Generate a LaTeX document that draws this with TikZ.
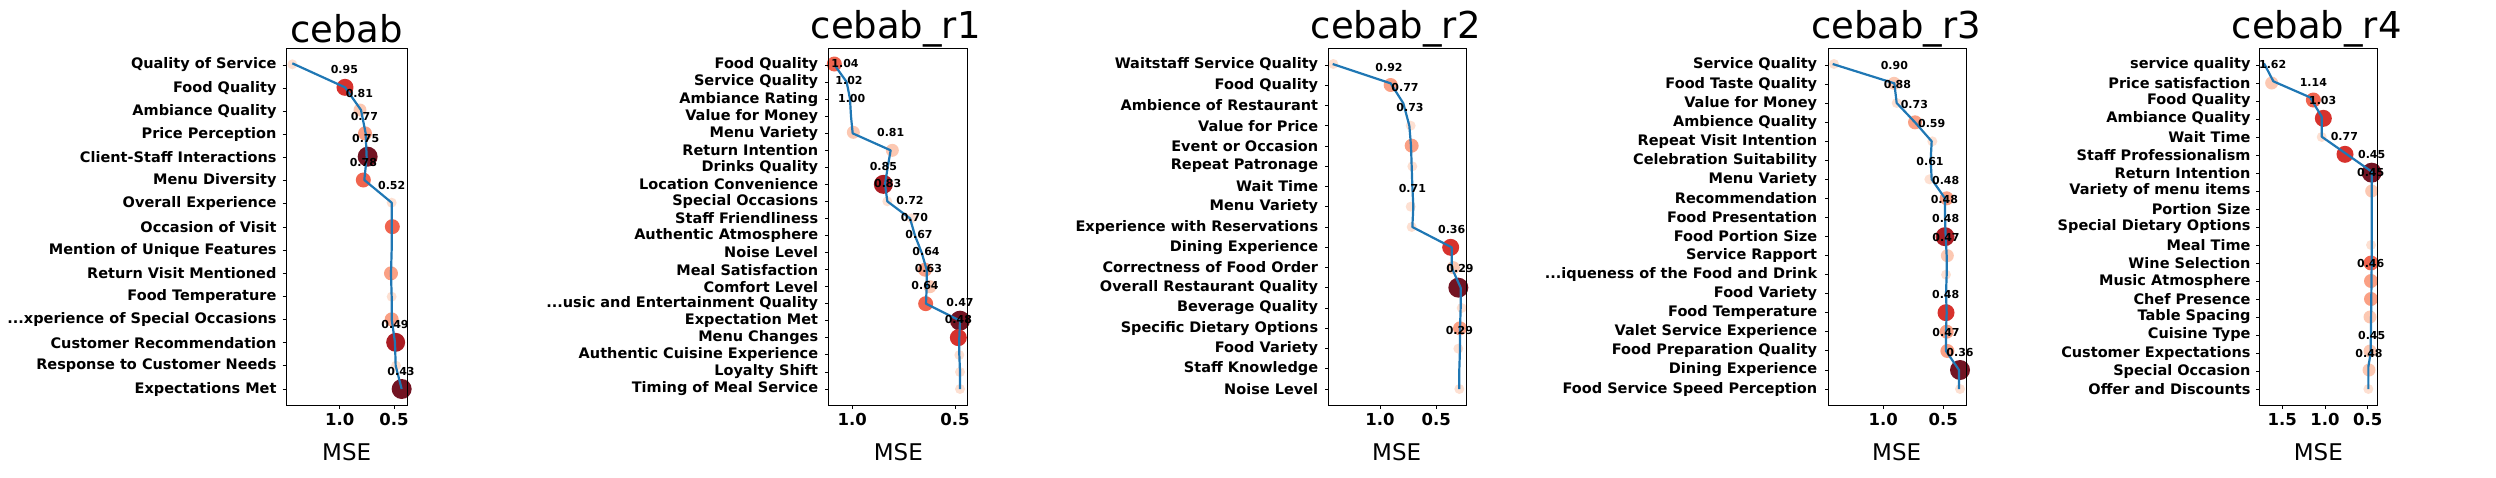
\documentclass[tikz,border=0pt]{standalone}
\usepackage{fontspec}
\setmainfont{DejaVu Sans}
\begin{document}
\begin{tikzpicture}[x=1pt,y=-1pt,
  rl/.style={anchor=east,inner sep=0pt,font=\fontsize{14.5}{15}\selectfont\bfseries},
  tl/.style={anchor=north,inner sep=0pt,font=\fontsize{16.5}{17}\selectfont\bfseries},
  vl/.style={font=\fontsize{11}{11}\selectfont\bfseries,inner sep=0pt},
  ttl/.style={font=\fontsize{37}{38}\selectfont},
  xl/.style={font=\fontsize{23}{24}\selectfont},
  dot/.style={circle,inner sep=0pt,draw=none},
  vli/.style={dot,fill={rgb,255:red,253;green,224;blue,210},minimum size=10pt},
  li/.style={dot,fill={rgb,255:red,252;green,200;blue,178},minimum size=13pt},
  sa/.style={dot,fill={rgb,255:red,250;green,160;blue,132},minimum size=14pt},
  ro/.style={dot,fill={rgb,255:red,240;green,100;blue,78},minimum size=15pt},
  rd/.style={dot,fill={rgb,255:red,215;green,50;blue,45},minimum size=17pt},
  dr/.style={dot,fill={rgb,255:red,170;green,28;blue,35},minimum size=19pt},
  dk/.style={dot,fill={rgb,255:red,115;green,20;blue,35},minimum size=20pt},
  curve/.style={draw={rgb,255:red,31;green,119;blue,180},line width=2.2pt,line join=round},
  ax/.style={draw=black,line width=0.9pt}]
\useasboundingbox (0,0) rectangle (2496,477);
\newcommand\mk[3]{\node[#1] at (#2,#3) {};}
\newcommand\va[3]{\node[vl] at (#2,#3) {#1};}
\newcommand\dts{...}
% ---------- panel 1
\begin{scope}[shift={(0,0)},scale=1/3]
\mk{vli}{877}{193}\mk{rd}{1035}{262}\mk{li}{1080}{330}\mk{sa}{1095}{400}\mk{dk}{1103}{470}
\mk{ro}{1090}{540}\mk{vli}{1175}{608}\mk{ro}{1177}{680}\mk{sa}{1173}{820}\mk{vli}{1175}{890}
\mk{sa}{1175}{958}\mk{dr}{1187}{1027}\mk{vli}{1188}{1097}\mk{dk}{1205}{1167}
\draw[curve] plot coordinates {(877,190)(1035,262)(1083,330)(1097,400)(1100,472)(1093,540)(1175,608)(1175,680)(1175,750)(1173,820)(1175,890)(1175,958)(1185,1027)(1187,1097)(1205,1167)};
\va{0.95}{1033}{207}\va{0.81}{1078}{280}\va{0.77}{1093}{348}\va{0.75}{1097}{416}\va{0.78}{1090}{486}
\va{0.52}{1175}{555}\va{0.49}{1185}{972}\va{0.43}{1203}{1113}
\draw[ax] (858,146) rectangle (1221,1216);
\foreach \t [count=\i from 0] in {Quality of Service,Food Quality,Ambiance Quality,Price Perception,Client-Staff Interactions,Menu Diversity,Overall Experience,Occasion of Visit,Mention of Unique Features,Return Visit Mentioned,Food Temperature,{\dts xperience of Special Occasions},Customer Recommendation,Response to Customer Needs,Expectations Met}
 {\draw[ax] (848,{195+69.43*\i}) -- (858,{195+69.43*\i}); \node[rl] at (830,{195+69.43*\i}) {\t};}
\foreach \x/\l in {1019/1.0,1182/0.5} {\draw[ax] (\x,1216) -- (\x,1228); \node[tl] at (\x,1240) {\l};}
\node[ttl] at (1040,85) {cebab};
\node[xl] at (1040,1355) {MSE};
\end{scope}
% ---------- panel 2
\begin{scope}[shift={(500,0)},scale=1/3]
\mk{ro}{1003}{192}\mk{li}{1060}{397}\mk{li}{1177}{451}\mk{dr}{1150}{553}\mk{vli}{1162}{604}\mk{vli}{1235}{655}
\mk{sa}{1275}{809}\mk{li}{1290}{860}\mk{ro}{1277}{911}\mk{dk}{1380}{962}\mk{rd}{1375}{1013}
\mk{vli}{1378}{1065}\mk{vli}{1380}{1116}\mk{vli}{1380}{1167}
\draw[curve] plot coordinates {(1005,197)(1040,246)(1050,297)(1053,349)(1058,400)(1172,451)(1163,502)(1155,553)(1162,604)(1230,655)(1245,707)(1265,758)(1280,809)(1280,860)(1278,911)(1380,962)(1378,1013)(1378,1065)(1380,1116)(1380,1167)};
\va{1.04}{1035}{190}\va{1.02}{1047}{241}\va{1.00}{1055}{295}\va{0.81}{1172}{397}\va{0.85}{1150}{498}
\va{0.83}{1163}{550}\va{0.72}{1230}{601}\va{0.70}{1243}{653}\va{0.67}{1257}{704}\va{0.64}{1278}{753}
\va{0.63}{1285}{805}\va{0.64}{1275}{856}\va{0.47}{1380}{907}\va{0.48}{1375}{958}
\draw[ax] (986,146) rectangle (1402,1216);
\foreach \t [count=\i from 0] in {Food Quality,Service Quality,Ambiance Rating,Value for Money,Menu Variety,Return Intention,Drinks Quality,Location Convenience,Special Occasions,Staff Friendliness,Authentic Atmosphere,Noise Level,Meal Satisfaction,Comfort Level,{\dts usic and Entertainment Quality},Expectation Met,Menu Changes,Authentic Cuisine Experience,Loyalty Shift,Timing of Meal Service}
 {\draw[ax] (976,{195+51.16*\i}) -- (986,{195+51.16*\i}); \node[rl] at (955,{195+51.16*\i}) {\t};}
\foreach \x/\l in {1057/1.0,1365/0.5} {\draw[ax] (\x,1216) -- (\x,1228); \node[tl] at (\x,1240) {\l};}
\node[ttl] at (1187,85) {cebab\_r1};
\node[xl] at (1195,1355) {MSE};
\end{scope}
% ---------- panel 3
\begin{scope}[shift={(1000,0)},scale=1/3]
\mk{vli}{1000}{192}\mk{sa}{1172}{255}\mk{vli}{1232}{377}\mk{sa}{1235}{437}\mk{vli}{1237}{499}\mk{vli}{1232}{620}
\mk{vli}{1235}{681}\mk{rd}{1352}{742}\mk{li}{1360}{803}\mk{dk}{1375}{863}\mk{vli}{1385}{924}\mk{sa}{1380}{985}
\mk{vli}{1375}{1046}\mk{vli}{1378}{1167}
\draw[curve] plot coordinates {(998,192)(1172,250)(1210,310)(1228,377)(1233,438)(1235,499)(1237,560)(1240,620)(1237,681)(1355,742)(1355,803)(1382,863)(1382,924)(1380,985)(1380,1046)(1378,1106)(1378,1167)};
\va{0.92}{1167}{202}\va{0.77}{1215}{262}\va{0.73}{1230}{322}\va{0.71}{1237}{565}\va{0.36}{1355}{688}
\va{0.29}{1380}{806}\va{0.29}{1378}{990}
\draw[ax] (986,146) rectangle (1398,1216);
\foreach \t [count=\i from 0] in {Waitstaff Service Quality,Food Quality,Ambience of Restaurant,Value for Price,Event or Occasion,Repeat Patronage,Wait Time,Menu Variety,Experience with Reservations,Dining Experience,Correctness of Food Order,Overall Restaurant Quality,Beverage Quality,Specific Dietary Options,Food Variety,Staff Knowledge,Noise Level}
 {\draw[ax] (976,{195+60.75*\i}) -- (986,{195+60.75*\i}); \node[rl] at (955,{195+60.75*\i}) {\t};}
\foreach \x/\l in {1140/1.0,1309/0.5} {\draw[ax] (\x,1216) -- (\x,1228); \node[tl] at (\x,1240) {\l};}
\node[ttl] at (1187,85) {cebab\_r2};
\node[xl] at (1190,1355) {MSE};
\end{scope}
% ---------- panel 4
\begin{scope}[shift={(1480,0)},scale=1/3]
\mk{vli}{1062}{192}\mk{li}{1242}{250}\mk{vli}{1250}{309}\mk{sa}{1305}{367}\mk{vli}{1357}{424}\mk{vli}{1348}{538}
\mk{sa}{1400}{595}\mk{dr}{1395}{710}\mk{li}{1402}{767}\mk{vli}{1398}{824}\mk{rd}{1398}{938}\mk{sa}{1400}{995}
\mk{sa}{1402}{1053}\mk{dk}{1440}{1110}\mk{vli}{1440}{1167}
\draw[curve] plot coordinates {(1058,192)(1243,250)(1250,309)(1305,367)(1355,424)(1352,481)(1355,538)(1395,595)(1395,652)(1397,710)(1400,767)(1400,824)(1398,881)(1400,938)(1398,995)(1398,1053)(1437,1110)(1437,1167)};
\va{0.90}{1243}{197}\va{0.88}{1252}{253}\va{0.73}{1303}{313}\va{0.59}{1355}{370}\va{0.61}{1350}{485}
\va{0.48}{1397}{541}\va{0.48}{1393}{598}\va{0.48}{1397}{655}\va{0.47}{1398}{712}\va{0.48}{1397}{883}
\va{0.47}{1398}{997}\va{0.36}{1440}{1057}
\draw[ax] (1046,146) rectangle (1459,1216);
\foreach \t [count=\i from 0] in {Service Quality,Food Taste Quality,Value for Money,Ambience Quality,Repeat Visit Intention,Celebration Suitability,Menu Variety,Recommendation,Food Presentation,Food Portion Size,Service Rapport,{\dts iqueness of the Food and Drink},Food Variety,Food Temperature,Valet Service Experience,Food Preparation Quality,Dining Experience,Food Service Speed Perception}
 {\draw[ax] (1036,{195+57.18*\i}) -- (1046,{195+57.18*\i}); \node[rl] at (1012,{195+57.18*\i}) {\t};}
\foreach \x/\l in {1210/1.0,1390/0.5} {\draw[ax] (\x,1216) -- (\x,1228); \node[tl] at (\x,1240) {\l};}
\node[ttl] at (1248,85) {cebab\_r3};
\node[xl] at (1250,1355) {MSE};
\end{scope}
% ---------- panel 5
\begin{scope}[shift={(1880,0)},scale=1/3]
\mk{li}{1175}{249}\mk{ro}{1300}{300}\mk{rd}{1330}{355}\mk{vli}{1325}{411}\mk{rd}{1395}{463}\mk{dk}{1475}{518}
\mk{li}{1475}{573}\mk{vli}{1473}{735}\mk{ro}{1473}{789}\mk{sa}{1473}{843}\mk{sa}{1473}{897}\mk{li}{1470}{951}
\mk{li}{1470}{1053}\mk{li}{1467}{1110}\mk{vli}{1465}{1167}
\draw[curve] plot coordinates {(1152,190)(1180,244)(1290,292)(1325,350)(1325,410)(1475,515)(1475,573)(1475,789)(1472,1059)(1465,1100)(1465,1167)};
\va{1.62}{1178}{193}\va{1.14}{1300}{247}\va{1.03}{1328}{300}\va{0.77}{1393}{408}\va{0.45}{1475}{462}
\va{0.45}{1472}{516}\va{0.46}{1472}{790}\va{0.45}{1475}{1005}\va{0.48}{1467}{1060}
\draw[ax] (1139,146) rectangle (1492,1216);
\foreach \t [count=\i from 0] in {service quality,Price satisfaction,Food Quality,Ambiance Quality,Wait Time,Staff Professionalism,Return Intention,Variety of menu items,Portion Size,Special Dietary Options,Meal Time,Wine Selection,Music Atmosphere,Chef Presence,Table Spacing,Cuisine Type,Customer Expectations,Special Occasion,Offer and Discounts}
 {\draw[ax] (1129,{195+54*\i}) -- (1139,{195+54*\i}); \node[rl] at (1112,{195+54*\i}) {\t};}
\foreach \x/\l in {1207/1.5,1335/1.0,1463/0.5} {\draw[ax] (\x,1216) -- (\x,1228); \node[tl] at (\x,1240) {\l};}
\node[ttl] at (1310,85) {cebab\_r4};
\node[xl] at (1315,1355) {MSE};
\end{scope}
\end{tikzpicture}
\end{document}
